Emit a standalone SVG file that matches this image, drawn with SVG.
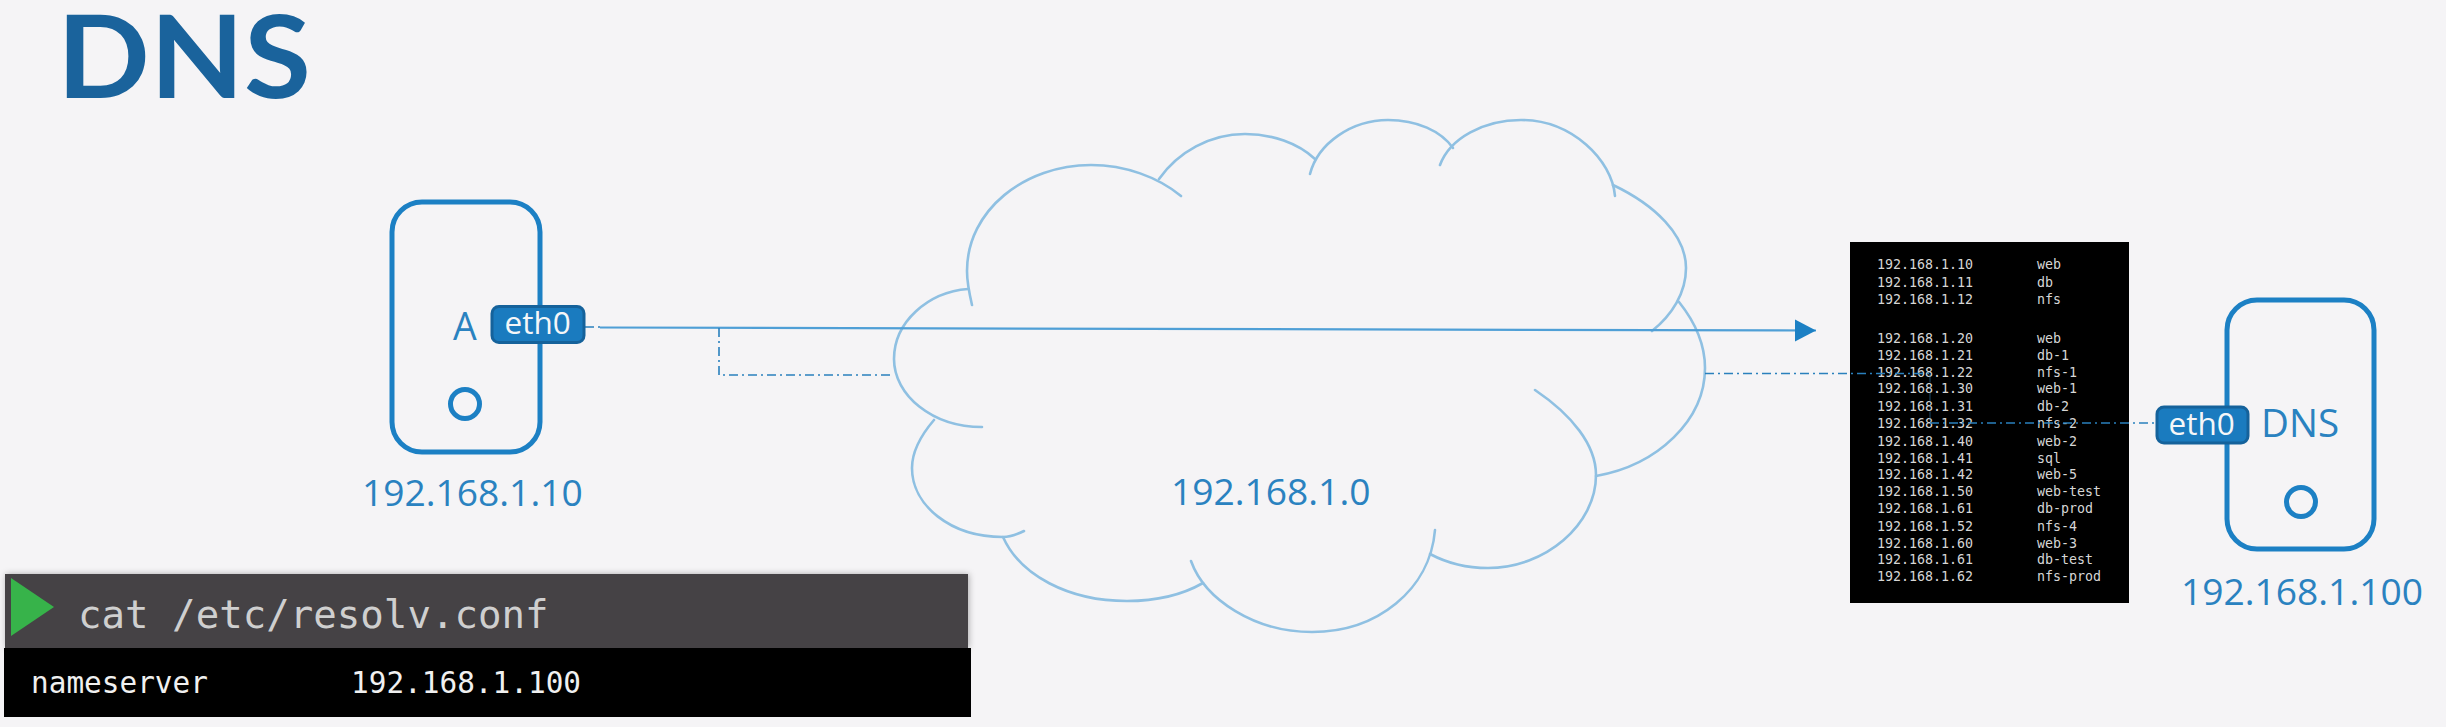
<svg xmlns="http://www.w3.org/2000/svg" width="2446" height="727" viewBox="0 0 2446 727">
<style>
.ui{font-family:"Open Sans","Noto Sans",sans-serif;fill:#2a82c0}
.ip{font-size:37.2px}
.host{fill:none;stroke:#1c80c4;stroke-width:5}
.pill{fill:#1a7bbf;stroke:#15629b;stroke-width:3}
.if{font-family:"Open Sans","Noto Sans",sans-serif;font-size:31.5px;fill:#f4f6f8}
.cloud{fill:none;stroke:#8fc0e2;stroke-width:2.6;stroke-linecap:round}
.dash{fill:none;stroke:#2a80bd;stroke-width:1.6;stroke-dasharray:9 4 2 4}
.mono{font-family:"DejaVu Sans Mono","Liberation Mono",monospace}
.tbl{font-size:13.3px;fill:#d6d6d6}
</style>
<defs>
<marker id="arrow" markerUnits="userSpaceOnUse" markerWidth="24" markerHeight="24" refX="21" refY="11" orient="auto"><path d="M0 0L21 11L0 22Z" fill="#1c80c4"/></marker>
<filter id="sh" x="-2%" y="-10%" width="104%" height="120%"><feDropShadow dx="1" dy="0" stdDeviation="3" flood-color="#000" flood-opacity=".3"/></filter>
</defs>
<rect width="2446" height="727" fill="#f5f4f6"/>
<text id="title" x="57" y="98" font-family="Lato,'Open Sans',sans-serif" font-weight="700" font-size="114" fill="#1a639c" textLength="254" lengthAdjust="spacingAndGlyphs">DNS</text>

<g id="cloud">
<path class="cloud" d="M972 305C969 292 967 282 967 271C967 210 1025 165 1091 165C1125 165 1158 177 1181 196"/>
<path class="cloud" d="M1159 179C1178 152 1210 134 1245 134C1272 134 1298 143 1315 159"/>
<path class="cloud" d="M1310 174C1318 143 1352 120 1388 120C1417 120 1441 131 1453 148"/>
<path class="cloud" d="M1440 165C1450 138 1484 120 1521 120C1572 120 1612 160 1615 196"/>
<path class="cloud" d="M1613 185C1655 205 1686 235 1686 268C1686 293 1672 315 1652 331"/>
<path class="cloud" d="M1679 302C1695 322 1705 345 1705 368C1705 420 1658 465 1596 476"/>
<path class="cloud" d="M1535 390C1572 415 1596 445 1596 475C1596 525 1545 568 1488 568C1465 568 1445 562 1430 554"/>
<path class="cloud" d="M1435 530C1430 590 1377 632 1312 632C1255 632 1205 600 1191 561"/>
<path class="cloud" d="M1203 583C1182 595 1155 601 1127 601C1068 601 1020 575 1003 537"/>
<path class="cloud" d="M1024 531C1018 534 1012 537 1003 537C950 537 912 505 912 468C912 450 922 434 934 420"/>
<path class="cloud" d="M982 427C932 427 894 395 894 359C894 322 928 292 968 289"/>
<text class="ui ip" x="1171" y="505">192.168.1.0</text>
</g>

<g id="hosts-table" class="mono tbl">
<rect x="1850" y="242" width="279" height="361" fill="#000"/>
<text x="1877" y="269">192.168.1.10</text><text x="2037" y="269">web</text>
<text x="1877" y="287">192.168.1.11</text><text x="2037" y="287">db</text>
<text x="1877" y="304">192.168.1.12</text><text x="2037" y="304">nfs</text>
<text x="1877" y="343">192.168.1.20</text><text x="2037" y="343">web</text>
<text x="1877" y="360">192.168.1.21</text><text x="2037" y="360">db-1</text>
<text x="1877" y="377">192.168.1.22</text><text x="2037" y="377">nfs-1</text>
<text x="1877" y="393">192.168.1.30</text><text x="2037" y="393">web-1</text>
<text x="1877" y="411">192.168.1.31</text><text x="2037" y="411">db-2</text>
<text x="1877" y="428">192.168.1.32</text><text x="2037" y="428">nfs-2</text>
<text x="1877" y="446">192.168.1.40</text><text x="2037" y="446">web-2</text>
<text x="1877" y="463">192.168.1.41</text><text x="2037" y="463">sql</text>
<text x="1877" y="479">192.168.1.42</text><text x="2037" y="479">web-5</text>
<text x="1877" y="496">192.168.1.50</text><text x="2037" y="496">web-test</text>
<text x="1877" y="513">192.168.1.61</text><text x="2037" y="513">db-prod</text>
<text x="1877" y="531">192.168.1.52</text><text x="2037" y="531">nfs-4</text>
<text x="1877" y="548">192.168.1.60</text><text x="2037" y="548">web-3</text>
<text x="1877" y="564">192.168.1.61</text><text x="2037" y="564">db-test</text>
<text x="1877" y="581">192.168.1.62</text><text x="2037" y="581">nfs-prod</text>
</g>

<g id="connectors">
<path class="dash" d="M585 327H600"/>
<path d="M600 327.5L1816 330.5" fill="none" stroke="#4f9fd6" stroke-width="2.2" marker-end="url(#arrow)"/>
<path class="dash" d="M719 328V375H894"/>
<path class="dash" d="M1705 373.5H1930"/>
<path class="dash" d="M1930 373.5V423" opacity=".35"/>
<path class="dash" d="M1930 423H2156"/>
</g>

<g id="host-a">
<rect class="host" x="392" y="202" width="148" height="250" rx="30"/>
<circle class="host" cx="465" cy="404" r="14.5"/>
<text class="ui" x="453" y="340" font-size="37.5">A</text>
<rect class="pill" x="492" y="306.5" width="92" height="36" rx="7"/>
<text class="if" x="504.5" y="334">eth0</text>
<text class="ui ip" x="362" y="505.5">192.168.1.10</text>
</g>

<g id="host-dns">
<rect class="host" x="2227" y="300" width="147" height="249" rx="30"/>
<circle class="host" cx="2301" cy="502" r="14.5"/>
<text class="ui" x="2261" y="437" font-size="38.5">DNS</text>
<rect class="pill" x="2157" y="407" width="91" height="36" rx="7"/>
<text class="if" x="2168.5" y="435">eth0</text>
<text class="ui ip" x="2181" y="605">192.168.1.100</text>
</g>

<g id="terminal">
<rect x="5" y="574" width="963" height="74" fill="#444345" filter="url(#sh)"/>
<path d="M11 578L54 607L11 636Z" fill="#37b34a"/>
<text class="mono" x="78" y="628" font-size="39.1" fill="#cfcfcf">cat /etc/resolv.conf</text>
<rect x="4" y="648" width="967" height="69" fill="#000"/>
<text class="mono" x="31" y="693" font-size="29.4" fill="#f0f0f0">nameserver</text>
<text class="mono" x="351" y="693" font-size="29.4" fill="#f0f0f0">192.168.1.100</text>
</g>
</svg>
